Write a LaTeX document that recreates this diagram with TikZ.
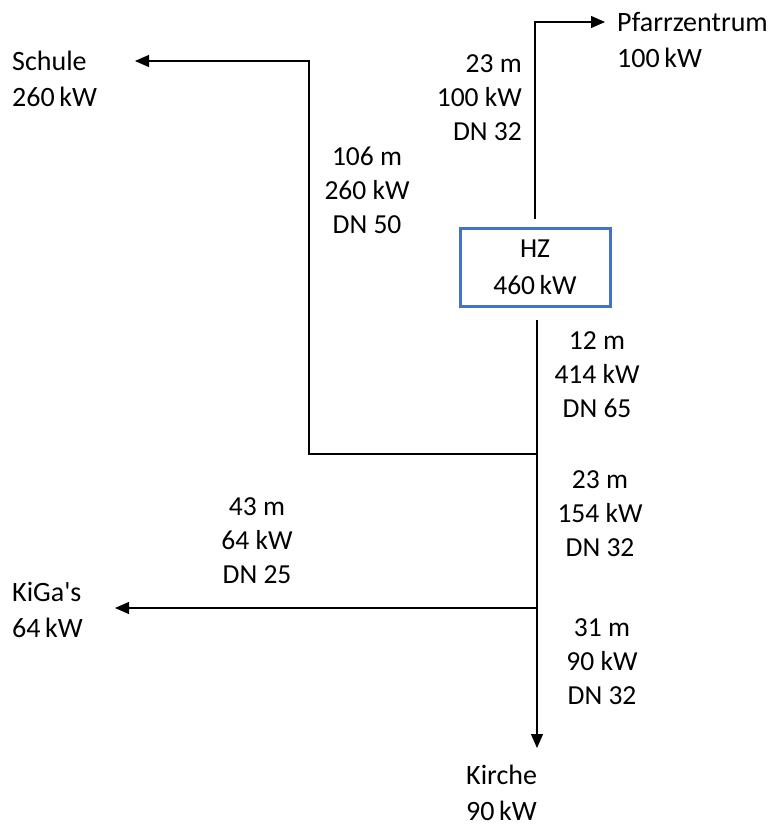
\documentclass[tikz,border=0pt]{standalone}
\usepackage{fontspec}
\setmainfont{Carlito}
\usetikzlibrary{arrows.meta,positioning,calc}
\definecolor{hzblue}{RGB}{68,114,196}
\tikzset{
  hzbox/.style={draw=hzblue, line width=3pt, minimum width=150pt, minimum height=78pt,
                inner sep=0pt, align=center, font=\fontsize{27.5}{37}\selectfont},
  pipe/.style={draw=black, line width=1.2pt},
  pipearr/.style={pipe, -{Triangle[length=14pt,width=12pt]}},
  pipelab/.style={inner sep=0pt, font=\fontsize{27.5}{34}\selectfont},
  consumer/.style={inner sep=0pt, align=left, font=\fontsize{28}{36}\selectfont},
}
\begin{document}
\begin{tikzpicture}[x=1pt,y=-1pt]
\useasboundingbox (0,0) rectangle (772,827);
% Heizzentrale
\node[hzbox] (hz) at (535,267) {HZ\\460\,kW};
% Abnehmer
\node[consumer, anchor=west] (pfarr) at (617,40) {Pfarrzentrum\\100\,kW};
\node[consumer, anchor=west] (schule) at (12,79) {Schule\\260\,kW};
\node[consumer, anchor=west] (kiga) at (12,610) {KiGa\textquotesingle s\\64\,kW};
\node[consumer, anchor=west] (kirche) at (466,793) {Kirche\\90\,kW};
% Knoten
\coordinate (pk) at (hz.north |- 0,22);
\coordinate (pe) at (605,22);
\coordinate (j1) at (537,454);
\coordinate (j1a) at (309,454);
\coordinate (j1b) at (309,61);
\coordinate (se) at (135,61);
\coordinate (j2) at (537,608);
\coordinate (ke) at (115,608);
\coordinate (ki) at (537,748);
% Leitungen
\draw[pipearr, shorten <=8pt] (hz.north) -- (pk) -- (pe);
\draw[pipearr, shorten <=12pt] (hz.south -| ki) -- (ki);
\draw[pipearr] (j1) -- (j1a) -- (j1b) -- (se);
\draw[pipearr] (j2) -- (ke);
% Leitungsdaten
\node[pipelab, align=right, anchor=east] (l1) at (522,98) {23 m\\100 kW\\DN 32};
\node[pipelab, align=center] (l2) at (367,190) {106 m\\260 kW\\DN 50};
\node[pipelab, align=center] (l3) at (597,375) {12 m\\414 kW\\DN 65};
\node[pipelab, align=center] (l4) at (600,514) {23 m\\154 kW\\DN 32};
\node[pipelab, align=center] (l5) at (257,541) {43 m\\64 kW\\DN 25};
\node[pipelab, align=center] (l6) at (602,662) {31 m\\90 kW\\DN 32};
\end{tikzpicture}
\end{document}
